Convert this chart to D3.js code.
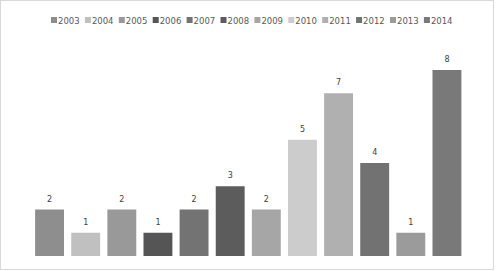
<!DOCTYPE html>
<html>
<head>
<meta charset="utf-8">
<script src="https://cdn.jsdelivr.net/npm/d3@7"></script>
<style>
  body { margin: 0; background: #fff; }
  svg { display: block; }
</style>
</head>
<body>
<svg id="chart" width="496" height="271"></svg>
<script>
// data
const years = ["2003", "2004", "2005", "2006", "2007", "2008", "2009", "2010", "2011", "2012", "2013", "2014"];
const counts = [2, 1, 2, 1, 2, 3, 2, 5, 7, 4, 1, 8];
const colors = ["#8e8e8e", "#c0c0c0", "#999999", "#555555", "#737373", "#5c5c5c",
                "#a6a6a6", "#cccccc", "#b0b0b0", "#727272", "#9b9b9b", "#797979"];

const svg = d3.select("#chart");
const width = 496, height = 271;

// chart border
svg.append("rect")
  .attr("x", 0.5).attr("y", 0.5)
  .attr("width", width - 3).attr("height", height - 2)
  .attr("fill", "#fff")
  .attr("stroke", "#d9d9d9");

// scales
const x = d3.scaleBand()
  .domain(years)
  .range([31.5, 465])
  .paddingInner(0.2)
  .paddingOuter(0.1);

const y = d3.scaleLinear()
  .domain([0, 8])
  .range([256, 70]);

const color = d3.scaleOrdinal().domain(years).range(colors);

const data = years.map((yr, i) => ({ year: yr, value: counts[i] }));

// bars
svg.selectAll("rect.bar")
  .data(data)
  .enter()
  .append("rect")
  .attr("class", "bar")
  .attr("x", d => x(d.year))
  .attr("y", d => y(d.value))
  .attr("width", x.bandwidth())
  .attr("height", d => y(0) - y(d.value))
  .attr("fill", d => color(d.year));

// value labels
svg.selectAll("text.lbl")
  .data(data)
  .enter()
  .append("text")
  .attr("class", "lbl")
  .attr("x", d => x(d.year) + x.bandwidth() / 2)
  .attr("y", d => y(d.value) - 8)
  .attr("text-anchor", "middle")
  .attr("font-family", "DejaVu Sans, sans-serif")
  .attr("font-size", "8px")
  .attr("fill", "#404040")
  .text(d => d.value);

// legend
const legend = svg.append("g").attr("transform", "translate(51, 21)");
const item = legend.selectAll("g")
  .data(years)
  .enter()
  .append("g")
  .attr("transform", (d, i) => `translate(${i * 33.9}, 0)`);

item.append("rect")
  .attr("x", 0).attr("y", -4)
  .attr("width", 6).attr("height", 6)
  .attr("fill", d => color(d));

item.append("text")
  .attr("x", 7)
  .attr("y", 3)
  .attr("font-family", "DejaVu Sans, sans-serif")
  .attr("font-size", "8.5px")
  .attr("fill", "#595959")
  .text(d => d);
</script>
</body>
</html>
